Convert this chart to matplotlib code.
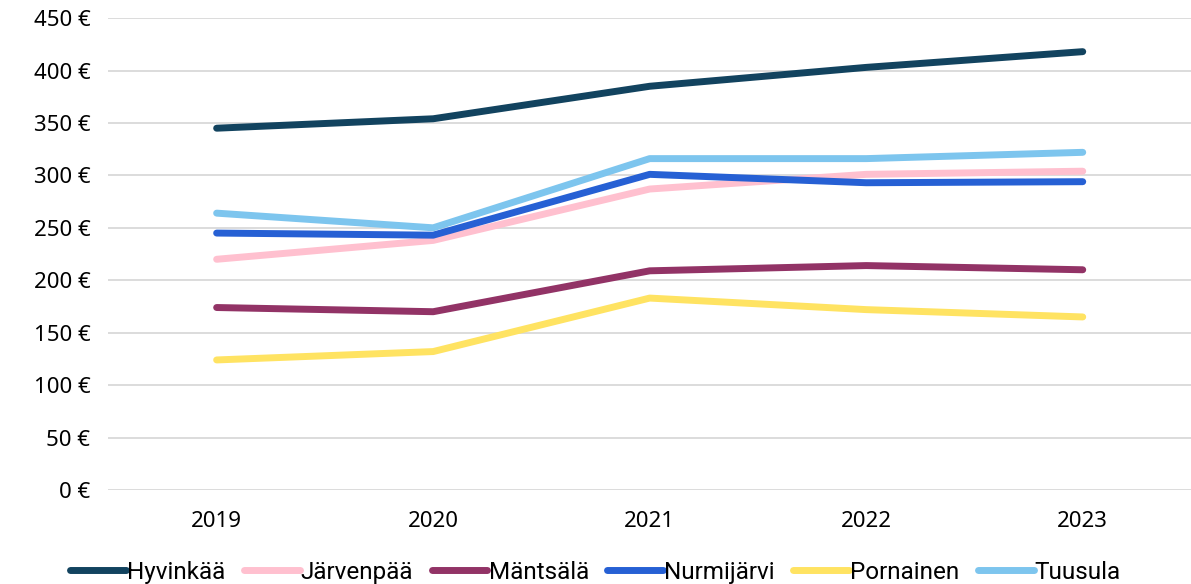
import matplotlib.pyplot as plt
from matplotlib.ticker import MultipleLocator, FuncFormatter

years = ['2019', '2020', '2021', '2022', '2023']
names = ['Hyvinkää', 'Järvenpää', 'Mäntsälä', 'Nurmijärvi', 'Pornainen', 'Tuusula']
hyvinkaa = [345, 354, 385, 403, 418]
jarvenpaa = [220, 238, 287, 301, 304]
mantsala = [174, 170, 209, 214, 210]
nurmijarvi = [245, 243, 301, 293, 294]
pornainen = [124, 132, 183, 172, 165]
tuusula = [264, 250, 316, 316, 322]
colors = ['#12435f', '#ffc0cf', '#923366', '#2660d4', '#ffe362', '#7dc5ee']

series = [hyvinkaa, jarvenpaa, mantsala, nurmijarvi, pornainen, tuusula]

plt.rcParams['font.family'] = ['Noto Sans', 'DejaVu Sans']
fig = plt.figure(figsize=(11.91, 5.84), dpi=100)
ax = fig.add_axes([0.091, 0.161, 0.909, 0.808])

x = range(len(years))
for name, vals, c in zip(names, series, colors):
    ax.plot(x, vals, color=c, lw=5, solid_capstyle='round', label=name)

ax.set_xlim(-0.5, 4.5)
ax.set_ylim(0, 450)
ax.set_xticks(list(x))
ax.set_xticklabels(years)
ax.yaxis.set_major_locator(MultipleLocator(50))
ax.yaxis.set_major_formatter(FuncFormatter(lambda v, p: '{:d} €'.format(int(v))))
ax.grid(axis='y', color='#d9d9d9', lw=1.3)
ax.set_axisbelow(True)
for s in ax.spines.values():
    s.set_visible(False)
ax.tick_params(length=0, labelsize=16, colors='#000000')
ax.tick_params(axis='x', pad=15)
ax.tick_params(axis='y', pad=13)

leg = fig.legend(loc='lower center', bbox_to_anchor=(0.5, -0.037), ncol=6, frameon=False,
                 handlelength=2.3, handletextpad=0.05, columnspacing=0.75,
                 prop={'family': ['Roboto', 'DejaVu Sans'], 'size': 17.5})

fig.savefig('out.png', dpi=100)
